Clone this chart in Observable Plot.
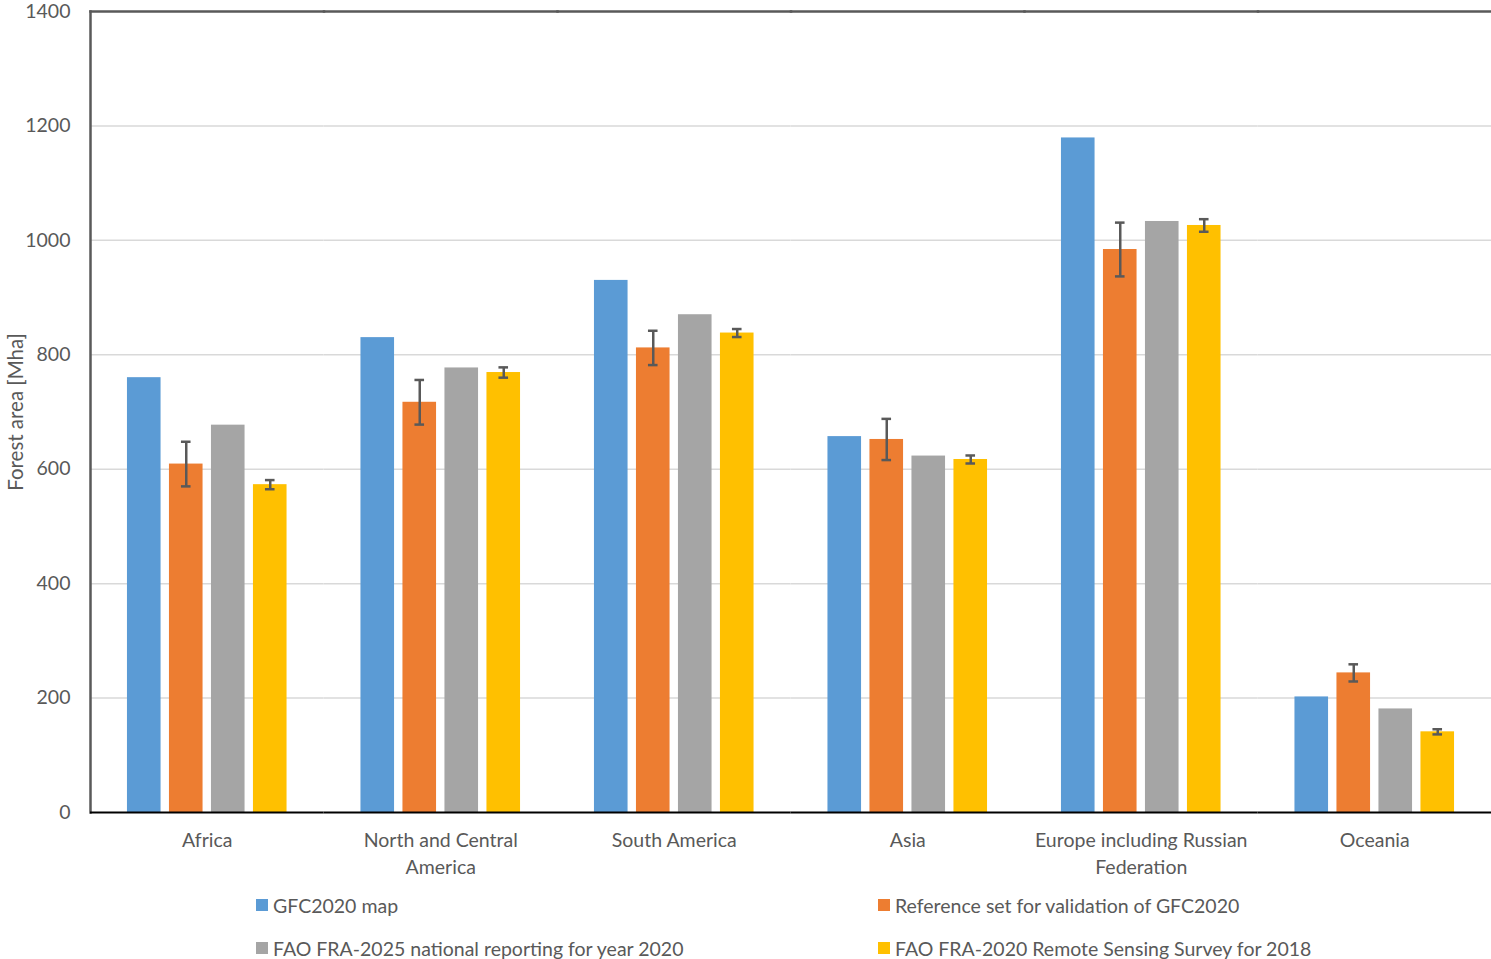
<!DOCTYPE html>
<html>
<head>
<meta charset="utf-8">
<script src="https://cdn.jsdelivr.net/npm/d3@7"></script>
<script src="https://cdn.jsdelivr.net/npm/@observablehq/plot@0.6"></script>
<style>
  body { margin: 0; background: #fff; font-family: Lato, "Open Sans", sans-serif; }
  #chart svg { display: block; }
  .legend { display: grid; grid-template-columns: 622px 600px; padding-left: 256px; row-gap: 21px; margin-top: 4px; }
  .item { display: flex; align-items: center; font-size: 19.5px; color: #595959; height: 22px; white-space: nowrap; }
  .sw { width: 12px; height: 12px; margin-right: 5px; flex: none; }
</style>
</head>
<body>
<div id="chart"></div>
<div class="legend" id="legend"></div>
<script>
const categories = ["Africa", "North and Central\nAmerica", "South America", "Asia", "Europe including Russian\nFederation", "Oceania"];
const series = ["GFC2020 map", "Reference set for validation of GFC2020", "FAO FRA-2025 national reporting for year 2020", "FAO FRA-2020 Remote Sensing Survey for 2018"];
const colors = ["#5b9bd5", "#ed7d31", "#a5a5a5", "#ffc000"];
const gfc2020 = [760, 830, 930, 657, 1179, 202];
const reference = [609, 717, 812, 652, 984, 244];
const referenceErr = [39, 39, 30, 36, 47, 15];
const fra2025 = [677, 777, 870, 623, 1033, 181];
const rss2018 = [573, 769, 838, 617, 1026, 141];
const rss2018Err = [8, 9, 7, 7, 11, 4.5];
const yTicks = [0, 200, 400, 600, 800, 1000, 1200, 1400];

const valueSets = [gfc2020, reference, fra2025, rss2018];
const rows = [];
categories.forEach((c, i) => valueSets.forEach((vals, s) => rows.push({region: c, series: series[s], value: vals[i]})));
const errRows = [];
categories.forEach((c, i) => {
  errRows.push({region: c, series: series[1], lo: reference[i] - referenceErr[i], hi: reference[i] + referenceErr[i]});
  errRows.push({region: c, series: series[3], lo: rss2018[i] - rss2018Err[i], hi: rss2018[i] + rss2018Err[i]});
});

const errColor = "#595959";
const chart = Plot.plot({
  width: 1491,
  height: 890,
  marginLeft: 90,
  marginRight: 0,
  marginTop: 11,
  marginBottom: 78,
  style: {fontFamily: "Lato, 'Open Sans', sans-serif", fontSize: "19.5px", color: "#595959", background: "#fff"},
  fx: {domain: categories, padding: 0, round: false, label: null},
  x: {domain: series, paddingInner: 0.2, paddingOuter: 0.88, round: false, axis: null},
  y: {domain: [0, 1400], label: null},
  color: {domain: series, range: colors},
  marks: [
    Plot.gridY(yTicks.slice(1, -1), {stroke: "#d9d9d9", strokeOpacity: 1, strokeWidth: 1.5}),
    Plot.barY(rows, {fx: "region", x: "series", y: "value", fill: "series"}),
    Plot.ruleX(errRows, {fx: "region", x: "series", y1: "lo", y2: "hi", stroke: errColor, strokeWidth: 2.5}),
    Plot.tickY(errRows, {fx: "region", x: "series", y: "lo", stroke: errColor, strokeWidth: 2.5, insetLeft: 12, insetRight: 12}),
    Plot.tickY(errRows, {fx: "region", x: "series", y: "hi", stroke: errColor, strokeWidth: 2.5, insetLeft: 12, insetRight: 12}),
    Plot.frame({anchor: "top", stroke: "#595959", strokeWidth: 2.5}),
    Plot.frame({anchor: "left", facetAnchor: "left", stroke: "#595959", strokeWidth: 2.5}),
    Plot.ruleY([0], {stroke: "#000", strokeWidth: 2}),
    Plot.axisY({ticks: yTicks, tickFormat: d => String(d), tickSize: 0, tickPadding: 20, label: null, fill: "#595959"}),
    Plot.axisY({ticks: [], tickSize: 0, label: "Forest area [Mha]", labelAnchor: "center", labelArrow: "none", labelOffset: 82, fill: "#595959", fontSize: 20.5}),
    Plot.axisFx({anchor: "bottom", tickSize: 0, tickPadding: 15, lineHeight: 1.4, label: null, fill: "#595959"})
  ]
});
document.getElementById("chart").appendChild(chart);

const legend = document.getElementById("legend");
[0, 1, 2, 3].forEach(i => {
  const d = document.createElement("div");
  d.className = "item";
  d.innerHTML = `<span class="sw" style="background:${colors[i]}"></span><span>${series[i]}</span>`;
  legend.appendChild(d);
});
</script>
</body>
</html>
